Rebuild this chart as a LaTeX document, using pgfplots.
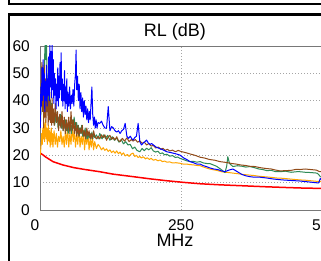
\documentclass[border=0pt]{standalone}
\usepackage{pgfplots}
\pgfplotsset{compat=1.18}
\usepackage{fontspec}
\setmainfont{Liberation Sans}
\definecolor{cblue}{RGB}{0,0,255}
\definecolor{cgreen}{RGB}{46,139,87}
\definecolor{cbrown}{RGB}{145,75,25}
\definecolor{corange}{RGB}{255,165,0}
\definecolor{cred}{RGB}{255,0,0}
\definecolor{axgray}{RGB}{120,120,120}
\definecolor{gridgray}{RGB}{165,165,165}
\begin{document}
\begin{tikzpicture}
\path[use as bounding box, clip] (0,0) rectangle (321pt,261pt);
\fill[white] (0,0) rectangle (321pt,261pt);
% frames
\draw[line width=2pt] (9pt,262pt) -- (9pt,257.3pt) -- (335pt,257.3pt);
\draw[line width=2.2pt] (9pt,-5pt) -- (9pt,246.5pt) -- (340pt,246.5pt);
\begin{axis}[
  at={(40pt,51pt)}, anchor=south west,
  scale only axis, width=282pt, height=164pt,
  xmin=0, xmax=500, ymin=0, ymax=60,
  xtick={0,250,500}, xticklabels={\hspace*{-10pt}0,250,\hspace*{6pt}500},
  ytick={0,10,20,30,40,50,60},
  major tick length=0pt,
  axis line style={axgray, line width=0.9pt},
  grid=major,
  major grid style={gridgray, line width=0.8pt, dash pattern=on 1pt off 2pt},
  /pgf/number format/assume math mode=true,
  tick label style={font=\fontsize{15.5}{15.5}\selectfont},
  yticklabel style={inner sep=0pt, anchor=east, xshift=-10pt},
  xticklabel style={inner sep=0pt, anchor=north, yshift=-9pt},
  title={RL (dB)},
  every axis title/.style={font=\fontsize{18}{18}\selectfont, at={(rel axis cs:0.5,1)}, anchor=base, yshift=9pt, xshift=-6pt, inner sep=0pt},
  xlabel={MHz},
  every axis x label/.style={font=\fontsize{18}{18}\selectfont, at={(rel axis cs:0.5,0)}, anchor=base, yshift=-37pt, xshift=-6pt, inner sep=0pt},
  every axis plot/.append style={line join=round},
]
% red limit
\addplot[cred, line width=1.5pt, no marks] coordinates {
(0.5,20.8)(5,20.2)(10,19.4)(23,17.7)(40,16.5)(60,15.5)(80,14.8)(106,14.0)(130,13.1)(165,12.2)(195,11.4)(225,10.7)(255,10.1)(284,9.6)(320,9.2)(355,8.9)(400,8.5)(440,8.2)(470,8.0)(500,7.9)
};
% orange
\addplot[corange, line width=1pt, no marks] coordinates {
(0.5,20)(2,24)(3,28)(4,24)(5,30)(6,26)(7,32)(8,25)(9,29)(10,33)(11,26)(12,30)(13,24)(14,28)(15,31)(16,25)(17,29)(18,23)(19,27)(20,30)(21,24)(22,28)(23,23)(24,27)(25,29)(27,24)(29,28)(31,23)(33,27)(35,25)(37,29)(39,24)(41,27)(43,23)(45,29)(47,24)(49,30)(51,23)(53,28)(55,24)(57,31)(59,25)(61,29)(63,23)(65,28)(67,24)(69,30)(71,23)(73,27)(75,24)(77,29)(79,22)(81,27)(83,24)(85,28)(87,22)(89,26)(91,23)(93,27)(95,22)(97,25)(100,22.5)(103,24)(106,23.2)(109,22)(112,22.8)(115,21.8)(118,22.4)(121,21.4)(124,22)(127,21)(130,21.6)(133,20.8)(136,21.6)(139,20.6)(142,21.2)(145,20.2)(148,20.9)(151,19.8)(155,20.3)(158,19.6)(161,20.4)(165,20.8)(168,19.6)(171,20)(174,19.2)(177,19.6)(180,19)(183,19.5)(187,18.7)(190,19.1)(194,18.5)(197,18.9)(201,18.2)(205,18.5)(209,18)(213,18.3)(217,17.7)(221,17.9)(225,17.5)(230,17.6)(235,17.2)(241,17.3)(248,17.1)(254,16.8)(260,16.8)(266,16.6)(272,16.5)(278,16.3)(284,16.2)(290,15.7)(296,15.3)(301,15)(308,14.7)(315,14.4)(322,14)(328,13.8)(335,13.7)(342,13.5)(350,13.3)(360,13)(370,12.8)(380,12.6)(390,12.3)(402,12.1)(412,11.9)(420,11.7)(430,11.6)(440,11.4)(450,11.2)(461,11)(470,10.9)(480,10.7)(490,10.5)(500,10.4)
};
% green
\addplot[cgreen, line width=1pt, no marks] coordinates {
(0.5,30)(1.5,36)(2.5,44)(3.5,40)(4.5,50)(5.5,45)(6.5,52)(7.5,48)(8.5,58)(9.5,62)(10.5,55)(11.5,62)(12.5,48)(13.5,42)(14.5,46)(15.5,38)(16.5,43)(17.5,36)(18.5,40)(19.5,34)(20.5,39)(21.5,33)(22.5,37)(23.5,32)(24.5,36)(26,31)(27.5,35)(29,32)(30.5,36)(32,30)(33.5,34)(35,31)(36.5,35)(38,30)(39.5,33)(41,29)(42.5,32)(44,30)(45.5,33)(47,29)(48.5,31)(50,28)(51.5,32)(53,29)(54.5,31)(56,28)(57.5,33)(59,30)(60.5,34)(62,31)(63.5,29)(65,32)(66.5,28)(68,31)(69.5,27)(71,30)(72.5,28)(74,31)(75.5,27)(77,29)(78.5,27)(80,30)(81.5,26)(83,29)(84.5,26)(86,28)(87.5,26.5)(89,28)(90.5,26)(92,28.5)(93.5,26)(95,28)(97,26.5)(100,27.5)(103,26)(106,28)(110,26)(113,27.5)(116,26.2)(120,27.3)(124,25.5)(128,26.8)(132,25.5)(136,26.3)(140,24.8)(144,25.8)(148,24.2)(152,25)(156,23.8)(160,24)(164,22.4)(168,23)(172,21.8)(177,21.3)(181,22.5)(185,21.7)(189,22.6)(193,22)(197,22.8)(201,21.6)(205,21.2)(209,21.5)(213,20.6)(217,20.9)(221,20.2)(225,20.4)(230,19.7)(235,19.9)(240,19.2)(244,19.4)(248,18.9)(255,18.4)(260,18)(266,17.7)(272,17.8)(278,17.5)(284,17.7)(290,17.2)(296,17)(301,17)(307,16.5)(313,16)(320,15)(325,14.2)(328,13.7)(331,16)(333,19.5)(336,17)(342,15.9)(350,16.2)(358,16)(365,15.7)(372,15.9)(380,15.5)(388,15)(395,14.8)(402,14.4)(410,14.5)(418,14)(426,14)(435,14.2)(445,13.8)(455,14)(461,14)(470,13.8)(480,13.7)(491,13.5)(494,13)(497,12.2)(500,12)
};
% brown
\addplot[cbrown, line width=1pt, no marks] coordinates {
(0.5,30)(1.5,42)(2.5,50)(3.5,54)(4.5,36)(5.5,50)(6.5,30)(7.5,53)(8.5,34)(9.5,48)(10.5,32)(11.5,44)(12.5,36)(13.5,42)(14.5,31)(15.5,40)(16.5,33)(17.5,43)(18.5,32)(19.5,38)(20.5,31)(21.5,41)(22.5,32)(23.5,37)(25,31)(27,39)(29,32)(31,36)(33,29)(35,35)(37,30)(39,36)(41,29)(43,34)(45,28)(47,33)(49,29)(51,34)(53,28)(55,36)(57,29)(59,33)(61,28)(63,32)(65,27)(67,31)(69,27)(71,30)(73,28)(75,31)(77,27)(79,29)(81,26)(83,30)(85,27)(87,29)(89,26)(91,28)(93,26)(95,29)(97,27)(100,26)(103,27)(106,26)(109,27.5)(112,26.5)(115,27.5)(118,25.5)(121,26.8)(124,27.3)(127,25.8)(130,26.6)(133,25.6)(136,26.8)(139,25.4)(142,25)(146,26.2)(150,25.2)(154,26.4)(158,25)(162,25.8)(165,25.2)(169,25.8)(173,24.8)(177,25.3)(181,24.4)(185,24.8)(189,23.8)(193,24.3)(197,23.4)(201,23.6)(205,22.7)(210,23)(214,22.2)(218,22.6)(222,21.8)(226,22.2)(230,21.6)(235,21.9)(240,21.3)(245,21.8)(250,21.4)(258,21)(266,20.5)(275,20)(284,19.3)(292,19)(300,18.5)(310,18.2)(319,17.7)(330,17.4)(340,17)(348,16.8)(355,16.5)(364,16.3)(372,16)(381,15.9)(390,15.5)(400,15.2)(410,15)(418,14.6)(426,14.3)(435,14.4)(445,14.5)(455,14.9)(461,14.8)(470,15)(480,14.8)(490,14.6)(496,14)(500,14)
};
% blue
\addplot[cblue, line width=1pt, no marks] coordinates {
(0.5,30)(1.5,45)(2.5,38)(3.5,52)(4.5,40)(5.5,55)(6.5,42)(7.5,50)(8.5,36)(9.5,47)(10.5,40)(11.5,53)(12.5,38)(13.5,48)(14.5,42)(15.5,56)(16.5,40)(17.5,62)(18.5,45)(19.5,58)(20.5,41)(21.5,62)(22.5,44)(23.5,55)(24.5,39)(25.5,50)(26.5,42)(27.5,48)(28.5,37)(29.5,46)(30.5,40)(31.5,52)(32.5,38)(33.5,49)(34.5,41)(35.5,54)(36.5,44)(37.5,57.5)(38.5,40)(39.5,48)(40.5,38)(41.5,46)(42.5,40)(43.5,51)(44.5,37)(45.5,45)(46.5,39)(47.5,48)(48.5,36)(49.5,43)(51,38)(52.5,45)(54,37)(55.5,42)(57,39)(58.5,44)(60,38)(61.5,46)(63,50)(64,58.5)(65,44)(66.5,49)(68,40)(69.5,46)(71,37)(72.5,43)(74,36)(75.5,41)(77,34)(78.5,40)(80,35)(81.5,38)(83,33)(84.5,37)(86,32)(87.5,36)(89,33)(90.5,39)(92,45)(93.5,35)(95,31)(96.5,34)(98,30)(99.5,33)(101,30)(103,32)(106,31.7)(109,32.5)(112,31)(115,30)(118,29.9)(121,37.8)(124,29)(127,30.5)(130,30)(133,29)(136,28.5)(139,29)(142,28)(145,29)(148,29.5)(151,31.7)(154,27)(157,26.2)(160,27)(163,26)(165,25.6)(168,26.5)(171,27)(174,31.7)(177,25)(180,23.8)(183,24.5)(186,25)(189,25.6)(192,24.5)(195,24)(198,24.3)(201,23.8)(206,23)(212,22.5)(218,22)(225,21.3)(232,21)(240,20.6)(248,20.1)(255,19)(260,18.5)(266,17.7)(272,17.3)(278,16.8)(284,16.8)(290,16.2)(296,15.8)(301,15.4)(308,15)(315,14.8)(322,14.3)(328,14.0)(335,14.6)(342,15)(350,14)(358,13)(365,12.5)(372,12.2)(380,12)(390,12)(402,11.7)(415,11.3)(430,11)(445,10.8)(461,10.6)(475,10.3)(488,10)(494,9.9)(497,11.5)(500,11)
};
\end{axis}
\end{tikzpicture}
\end{document}
